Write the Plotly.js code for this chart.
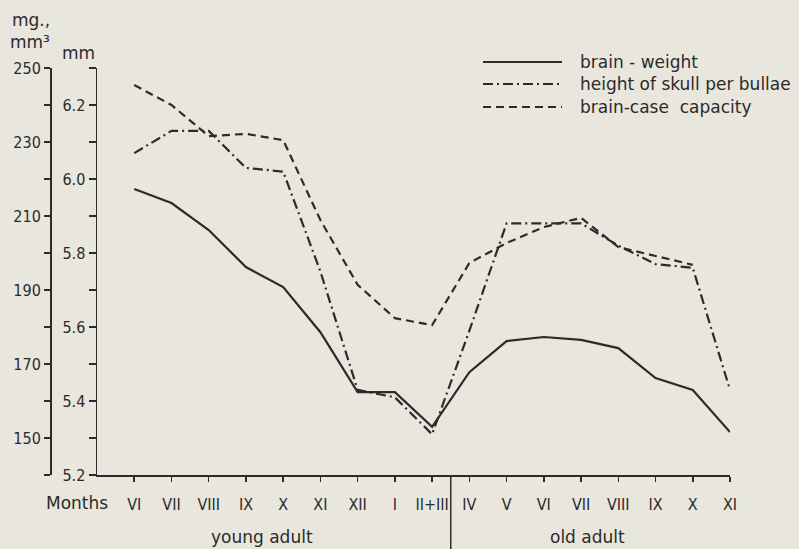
<!DOCTYPE html>
<html>
<head>
<meta charset="utf-8">
<script src="https://cdn.plot.ly/plotly-3.0.1.min.js"></script>
<style>
  html, body { margin: 0; padding: 0; background: #e9e6de; }
  #chart { width: 799px; height: 549px; }
</style>
</head>
<body>
<div id="chart"></div>
<script>
// ---- data ----
const months = ['VI','VII','VIII','IX','X','XI','XII','I','II+III','IV','V','VI','VII','VIII','IX','X','XI'];
const brainWeight  = [217.3,213.5,206.2,196.2,190.8,178.6,162.4,162.4,153.0,167.8,176.2,177.3,176.5,174.3,166.2,163.0,151.6]; // mg
const skullHeight  = [6.07,6.13,6.13,6.03,6.02,5.75,5.43,5.41,5.31,5.59,5.88,5.88,5.88,5.82,5.77,5.76,5.43];             // mm
const caseCapacity = [245.4,240.0,231.6,232.2,230.5,208.9,191.4,182.4,180.5,197.3,202.7,207.0,209.5,201.6,199.2,196.8,null]; // mm3
const seriesNames = ['brain - weight', 'height of skull per bullae', 'brain-case  capacity'];
const groupNames = ['young adult', 'old adult'];
const mgTickVals = [140,150,160,170,180,190,200,210,220,230,240,250];
const mgTickText = ['','150','','170','','190','','210','','230','','250'];
const mmTickVals = [5.2,5.3,5.4,5.5,5.6,5.7,5.8,5.9,6.0,6.1,6.2,6.3];
const mmTickText = ['5.2','','5.4','','5.6','','5.8','','6.0','','6.2',''];

const ink = '#2b2b2b';
const xIdx = months.map((_, i) => i);
const numFont = {family: 'DejaVu Sans Condensed, DejaVu Sans, sans-serif', size: 16, color: ink};
const txtFont = {family: 'DejaVu Sans, sans-serif', size: 17, color: ink};
const legFont = {family: 'DejaVu Sans, sans-serif', size: 17, color: ink};
const dashDash = '8px,5px';
const dashDot = '10px,4px,2px,4px';

const traces = [
  {x: xIdx, y: brainWeight, yaxis: 'y', mode: 'lines', name: seriesNames[0],
   line: {color: ink, width: 2.2}},
  {x: xIdx, y: skullHeight, yaxis: 'y2', mode: 'lines', name: seriesNames[1],
   line: {color: ink, width: 2.2, dash: dashDot}},
  {x: xIdx, y: caseCapacity, yaxis: 'y', mode: 'lines', name: seriesNames[2],
   line: {color: ink, width: 2.2, dash: dashDash}, connectgaps: false}
];

// plot area: x 50..730 px, y 68..475 px
const L = 50, R = 730, T = 68, B = 475;
const px = X => (X - L) / (R - L);
const py = Y => (B - Y) / (B - T);

const legendY = [62, 84, 107];
const legendDash = ['solid', dashDot, dashDash];
const shapes = [
  // divider between age groups
  {type: 'line', xref: 'x', yref: 'paper', x0: 8.5, x1: 8.5, y0: 0, y1: py(549),
   line: {color: ink, width: 1.5}}
];
const annotations = [
  {text: 'Months', xref: 'paper', yref: 'paper', x: px(77), y: py(503), showarrow: false, font: txtFont, xanchor: 'center', yanchor: 'middle'},
  {text: groupNames[0], xref: 'paper', yref: 'paper', x: px(262), y: py(537), showarrow: false, font: txtFont, xanchor: 'center', yanchor: 'middle'},
  {text: groupNames[1], xref: 'paper', yref: 'paper', x: px(587), y: py(537), showarrow: false, font: txtFont, xanchor: 'center', yanchor: 'middle'},
  {text: 'mg.,', xref: 'paper', yref: 'paper', x: px(10), y: py(20), showarrow: false, font: txtFont, xanchor: 'left', yanchor: 'middle'},
  {text: 'mm³', xref: 'paper', yref: 'paper', x: px(8), y: py(42), showarrow: false, font: txtFont, xanchor: 'left', yanchor: 'middle'},
  {text: 'mm', xref: 'paper', yref: 'paper', x: px(78), y: py(53), showarrow: false, font: txtFont, xanchor: 'center', yanchor: 'middle'}
];
seriesNames.forEach((n, i) => {
  shapes.push({type: 'line', xref: 'paper', yref: 'paper', x0: px(483), x1: px(562), y0: py(legendY[i]), y1: py(legendY[i]),
    line: {color: ink, width: 2.2, dash: legendDash[i]}});
  annotations.push({text: n, xref: 'paper', yref: 'paper', x: px(578), y: py(legendY[i]), showarrow: false,
    font: legFont, xanchor: 'left', yanchor: 'middle'});
});

const layout = {
  width: 799, height: 549,
  margin: {l: L, r: 799 - R, t: T, b: 549 - B, pad: 0},
  paper_bgcolor: '#e9e6de', plot_bgcolor: 'rgba(0,0,0,0)',
  showlegend: false,
  xaxis: {
    domain: [(97 - L) / (R - L), 1], range: [-1, 16],
    tickmode: 'array', tickvals: xIdx, ticktext: months,
    ticks: 'outside', ticklen: 5, tickwidth: 1.5, tickcolor: ink,
    showline: true, linecolor: ink, linewidth: 1.5,
    showgrid: false, zeroline: false, tickfont: numFont, ticklabelstandoff: 9
  },
  yaxis: {
    anchor: 'free', position: 0, side: 'left', range: [140, 250],
    tickmode: 'array', tickvals: mgTickVals, ticktext: mgTickText,
    ticks: 'outside', ticklen: 6, tickwidth: 1.5, tickcolor: ink,
    showline: true, linecolor: ink, linewidth: 1.5,
    showgrid: false, zeroline: false, tickfont: numFont
  },
  yaxis2: {
    overlaying: 'y', anchor: 'x', side: 'left', range: [5.2, 6.3],
    tickmode: 'array', tickvals: mmTickVals, ticktext: mmTickText,
    ticks: 'outside', ticklen: 7, tickwidth: 1.5, tickcolor: ink,
    showline: true, linecolor: ink, linewidth: 1.5,
    showgrid: false, zeroline: false, tickfont: numFont
  },
  shapes: shapes,
  annotations: annotations
};

Plotly.newPlot('chart', traces, layout, {staticPlot: true, displayModeBar: false});
</script>
</body>
</html>
